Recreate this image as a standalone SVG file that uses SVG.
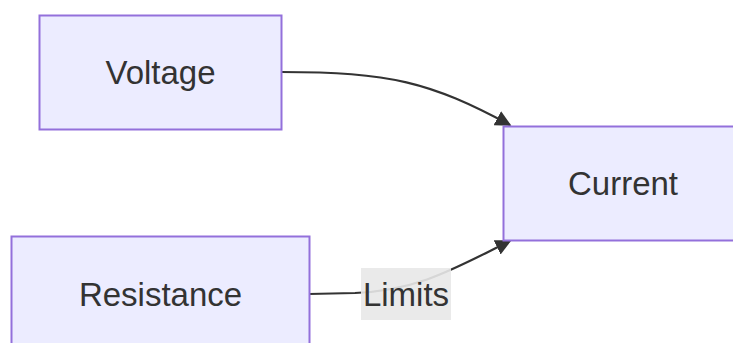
<svg xmlns="http://www.w3.org/2000/svg" width="733" height="343" viewBox="0 0 733 343">
  <style>
    .node rect { fill: #ECECFF; stroke: #9370DB; stroke-width: 2; }
    .node text, .label text { font-family: "Liberation Sans", Arial, sans-serif; font-size: 33px; fill: #333; text-anchor: middle; dominant-baseline: central; }
    .edge { fill: none; stroke: #333; stroke-width: 2.2; }
  </style>
  <defs>
    <marker id="arrowhead" viewBox="0 0 10 10" refX="9" refY="5" markerWidth="16" markerHeight="16" markerUnits="userSpaceOnUse" orient="auto">
      <path d="M0,0 L10,5 L0,10 z" fill="#333"/>
    </marker>
  </defs>

  <g id="connectors">
    <path class="edge" d="M281,72 C390,72 430,82 510,125" marker-end="url(#arrowhead)"/>
    <path class="edge" d="M309,294 L355,293 C420,290 455,268 510,241" marker-end="url(#arrowhead)"/>
  </g>

  <g id="node-voltage" class="node">
    <rect x="39.5" y="15.5" width="242" height="114"/>
    <text x="160.5" y="72">Voltage</text>
  </g>
  <g id="node-current" class="node">
    <rect x="503.5" y="126.5" width="232" height="114"/>
    <text x="623" y="183">Current</text>
  </g>
  <g id="node-resistance" class="node">
    <rect x="11.5" y="236.5" width="298" height="114"/>
    <text x="160.5" y="294">Resistance</text>
  </g>

  <g id="label-limits" class="label">
    <rect x="361" y="268" width="90" height="52" fill="#e8e8e8" opacity="0.9"/>
    <text x="406" y="294">Limits</text>
  </g>
</svg>
